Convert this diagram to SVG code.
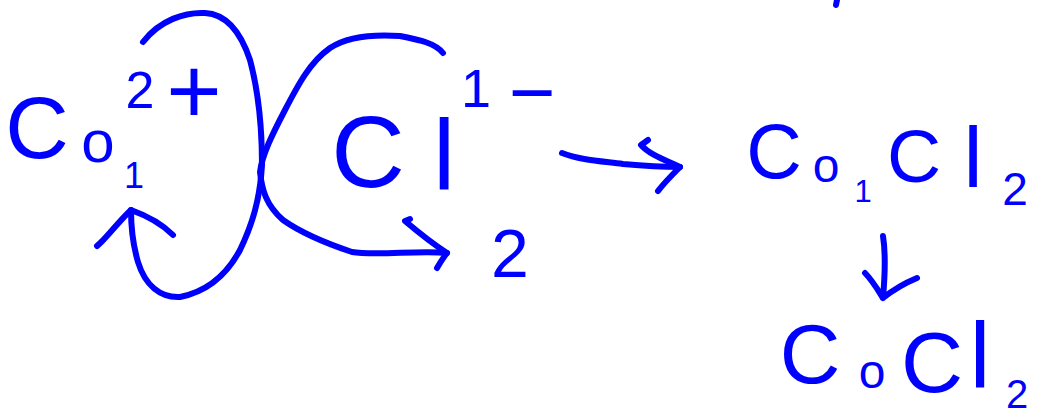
<svg xmlns="http://www.w3.org/2000/svg" width="1048" height="418" viewBox="0 0 1048 418">
<style>
.t{font-family:"Liberation Sans",Arial,sans-serif;fill:#0000ff;text-anchor:middle}
.ink{fill:none;stroke:#0000ff;stroke-width:6;stroke-linecap:round;stroke-linejoin:round}
</style>
<rect width="1048" height="418" fill="#ffffff"/>
<g id="connectors">
<path class="ink" d="M143,42 C160,20 185,12 205,13 C225,14 240,30 250,60 C258,90 262,130 262,165 C260,200 252,225 240,250 C225,278 205,292 180,297 C160,298 145,285 138,262 C133,245 131,225 131,210"/>
<path class="ink" d="M97,246 C105,240 118,222 131,210 C145,215 160,222 173,235"/>
<path class="ink" d="M443,53 C435,43 420,40 400,36 C370,34 345,38 330,48 C310,62 298,85 285,110 C272,135 262,155 260,172 C262,190 266,205 283,220 C300,232 325,243 352,252 C375,256 420,250 447,253"/>
<path class="ink" d="M410,219 L405,221 C418,232 430,242 447,253 C443,258 440,263 437,268"/>
<path class="ink" d="M562,153 C580,160 600,161 623,164 C645,166 660,167 680,167"/>
<path class="ink" d="M648,140 L641,145 C650,155 665,160 680,167 C672,175 664,183 658,191"/>
<path class="ink" d="M883,236 C886,255 885,275 883,298 M865,273 C872,280 878,290 883,298 C893,290 905,283 917,278"/>
<path class="ink" d="M837,0 L836,5"/>
</g>
<g id="co2plus">
<text class="t" x="37" y="158" font-size="88">C</text>
<text class="t" x="98" y="162" font-size="60">o</text>
<text class="t" x="140" y="108" font-size="52">2</text>
<text class="t" x="194" y="123" font-size="95">+</text>
<text class="t" x="134" y="188" font-size="36">1</text>
</g>
<g id="cl1minus">
<text class="t" x="368" y="187" font-size="102">C</text>
<text class="t" x="444" y="190" font-size="100">l</text>
<text class="t" x="476" y="107" font-size="54">1</text>
<text class="t" x="532" y="120" font-size="80">−</text>
</g>
<g id="two">
<text class="t" x="510" y="277" font-size="68">2</text>
</g>
<g id="co1cl2">
<text class="t" x="774" y="178" font-size="77">C</text>
<text class="t" x="826" y="182" font-size="48">o</text>
<text class="t" x="863" y="202" font-size="31">1</text>
<text class="t" x="914" y="182" font-size="75">C</text>
<text class="t" x="973" y="187" font-size="86">l</text>
<text class="t" x="1015" y="205" font-size="46">2</text>
</g>
<g id="cocl2">
<text class="t" x="810" y="383" font-size="84">C</text>
<text class="t" x="872" y="388" font-size="48">o</text>
<text class="t" x="932" y="392" font-size="86">C</text>
<text class="t" x="980" y="387" font-size="93">l</text>
<text class="t" x="1017" y="408" font-size="40">2</text>
</g>
</svg>
